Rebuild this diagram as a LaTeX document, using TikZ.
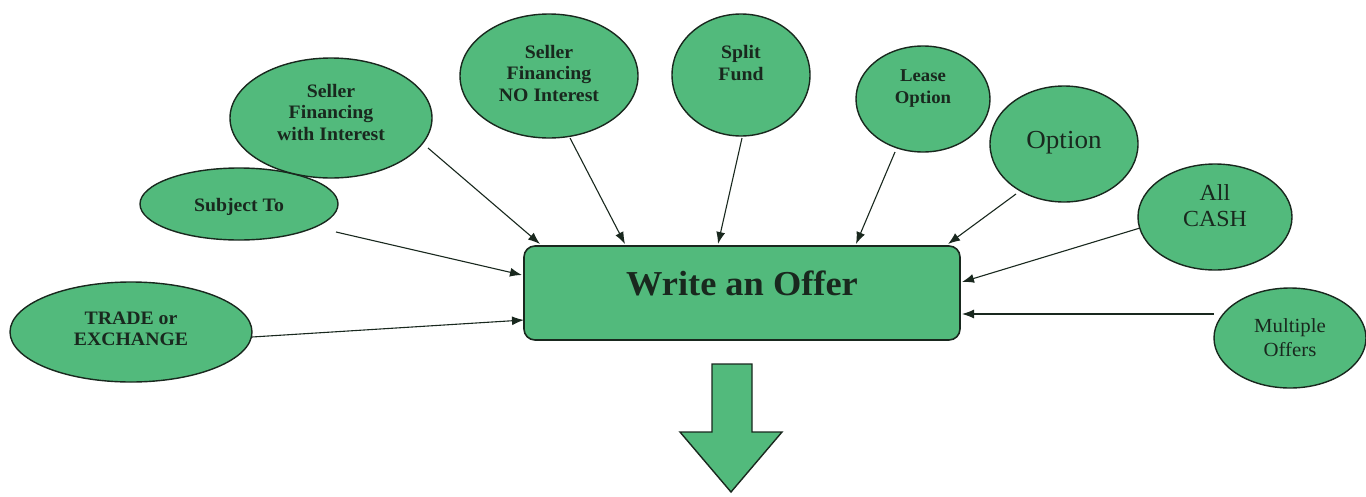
\documentclass[tikz,border=0pt]{standalone}
\usepackage{fontspec}
\setmainfont{Liberation Serif}[FakeStretch=1.04]
\usetikzlibrary{shapes.geometric,arrows.meta}
\definecolor{leaf}{RGB}{82,186,124}
\definecolor{ink}{RGB}{25,40,30}
\begin{document}
\begin{tikzpicture}[x=1pt,y=-1pt,
  oval/.style={ellipse,draw=ink,line width=1.4pt,fill=leaf,inner sep=0pt},
  lab/.style={align=center,text=ink,inner sep=0pt,font=\fontsize{19}{21.5}\selectfont\bfseries},
  link/.style={draw=ink,line width=1.1pt,-{Latex[length=12pt,width=9pt]}}]
\useasboundingbox (0,0) rectangle (1366,496);
\node[oval,minimum width=242pt,minimum height=100pt,label={[lab,yshift=3pt]center:{TRADE or\\EXCHANGE}}] (trade) at (131,332) {};
\node[oval,minimum width=198pt,minimum height=72pt,label={[lab,yshift=-3pt]center:{Subject To}}] (subj) at (239,204) {};
\node[oval,minimum width=202pt,minimum height=120pt,label={[lab,yshift=6pt]center:{Seller\\Financing\\with Interest}}] (sfwi) at (331,118) {};
\node[oval,minimum width=178pt,minimum height=124pt,label={[lab,yshift=3pt]center:{Seller\\Financing\\NO Interest}}] (sfno) at (549,76) {};
\node[oval,minimum width=138pt,minimum height=122pt,label={[lab,yshift=12pt]center:{Split\\Fund}}] (split) at (741,75) {};
\node[oval,minimum width=134pt,minimum height=106pt,label={[lab,font=\fontsize{18}{22}\selectfont\bfseries,yshift=10pt]center:{Lease\\Option}}] (lease) at (923,99) {};
\node[oval,minimum width=148pt,minimum height=116pt,label={[lab,font=\fontsize{26}{28}\selectfont,yshift=1pt]center:{Option}}] (opt) at (1064,144) {};
\node[oval,minimum width=154pt,minimum height=106pt,label={[lab,font=\fontsize{23}{26}\selectfont,yshift=11pt]center:{All\\CASH}}] (cash) at (1215,217) {};
\node[oval,minimum width=152pt,minimum height=100pt,label={[lab,font=\fontsize{20}{24}\selectfont,yshift=0pt]center:{Multiple\\Offers}}] (multi) at (1290,338) {};
\node[draw=ink,line width=1.6pt,fill=leaf,rounded corners=11pt,minimum width=436pt,minimum height=94pt,inner sep=0pt,label={[lab,font=\fontsize{35}{37}\selectfont\bfseries,yshift=10pt]center:{Write an Offer}}] (offer) at (742,293) {};
\coordinate (t1) at (524,320);
\coordinate (t2) at (522,275);
\coordinate (t3) at (540,244);
\coordinate (t4) at (625,244);
\coordinate (t5) at (718,244);
\coordinate (t6) at (856,244);
\coordinate (t7) at (948,244);
\coordinate (t8) at (962,282);
\coordinate (t9) at (962,314);
\coordinate (s1) at (252,337);
\coordinate (s2) at (336,232);
\coordinate (s3) at (428,148);
\coordinate (s4) at (570,138);
\coordinate (s5) at (742,138);
\coordinate (s6) at (895,152);
\coordinate (s7) at (1016,194);
\coordinate (s8) at (1140,228);
\coordinate (s9) at (1214,314);
\draw[link] (s1) -- (t1);
\draw[link] (s2) -- (t2);
\draw[link] (s3) -- (t3);
\draw[link] (s4) -- (t4);
\draw[link] (s5) -- (t5);
\draw[link] (s6) -- (t6);
\draw[link] (s7) -- (t7);
\draw[link] (s8) -- (t8);
\draw[link] (s9) -- (t9);
\draw[draw=ink,line width=1.4pt,fill=leaf,line join=miter]
  (712,364) -- (752,364) -- (752,432) -- (782,432) -- (731,492) -- (680,432) -- (712,432) -- cycle;
\end{tikzpicture}
\end{document}
